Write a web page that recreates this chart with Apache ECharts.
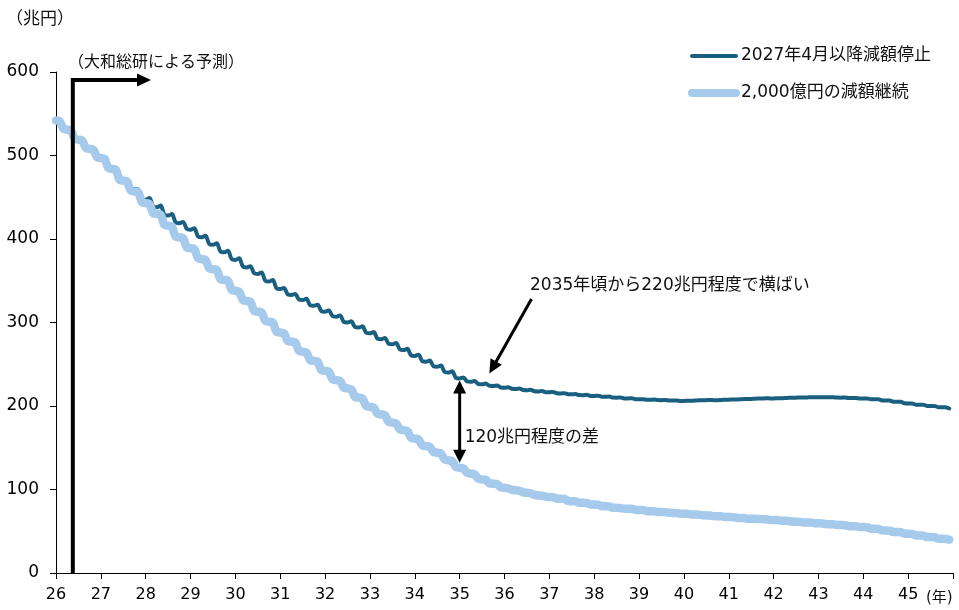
<!DOCTYPE html>
<html lang="ja">
<head>
<meta charset="utf-8">
<title>日銀保有国債残高の見通し</title>
<script src="https://cdn.jsdelivr.net/npm/echarts@6/dist/echarts.min.js"></script>
<style>
  html, body { margin: 0; padding: 0; background: #fff; }
  #chart { width: 959px; height: 610px; }
</style>
</head>
<body>
<div id="chart"></div>
<script>
// 年ラベル（20XX年）
const yearLabels = ['26','27','28','29','30','31','32','33','34','35',
                    '36','37','38','39','40','41','42','43','44','45'];

// 2027年4月以降減額停止（兆円、月次）
const holdStop = [
  542,541,532,531,530,520,519,518,509,508,507,498,               // 2026
  497,496,485,484.5,483.7,472,471.5,470.7,460,460,459.5,448,     // 2027
  447,449,439,438,440,429,428,430,420,419,420.5,412,             // 2028
  411,413,403,402,404,394,393,395,385,384,386,376,               // 2029
  375,377,367,366,367.5,359,358,360,350,349,351,341,             // 2030
  340,341.4,333.7,333,334.2,327.6,327,328.4,320.7,320,321.4,313.7, // 2031
  313,314.5,307.6,307,308.5,300.7,300,301.5,294.6,294,295.5,287.7, // 2032
  287,288.5,280.7,280,281.5,274.6,274,275.5,267.7,267,268.5,260.7, // 2033
  260,261.5,253.7,253,254.5,247.6,247,248.5,240.7,240,241.5,233.7, // 2034
  233,234.2,229.4,229,230,226.3,226,226.8,224.2,224,224.6,222.2, // 2035
  222,222.5,220.7,220.5,221,219.2,219,219.5,217.7,217.5,218,216.6, // 2036
  216.5,216.9,215.2,215,215.4,214.1,214,214.4,213.1,213,213.4,212.1, // 2037
  212,212.3,211.1,211,211.3,210.1,210,210.3,209.1,209,209.3,208.1, // 2038
  208,208.2,207.6,207.5,207.7,207.1,207,207.2,206.6,206.5,206.7,206.1, // 2039
  206,206.3,206.4,206.5,206.8,206.9,207,207.2,207,207,207.3,207.4, // 2040
  207.5,207.8,207.9,208,208.3,208.4,208.5,208.8,208.9,209,209.2,209.1, // 2041
  209,209.3,209.4,209.5,209.8,209.9,210,210.3,210.2,210.3,210.5,210.4, // 2042
  210.4,210.6,210.4,210.4,210.5,210.1,210,210.2,209.7,209.6,209.7,209.1, // 2043
  209,209.1,208.1,208,208.1,206.7,206.5,206.6,205.2,205,205.1,203.2, // 2044
  203,203.1,201.6,201.5,201.6,200.1,200,200.1,198.6,198.5,198.4,197  // 2045
];

// 2,000億円の減額継続（兆円、月次）
const keepCut = [
  542,541,532,531,530,520,519,518,509,508,507,498,               // 2026
  497,496,485,484,483,471,470,469,458,457,456,444,               // 2027
  443,442,431,430,429,417,416,415,403,402,401,390,               // 2028
  389,388,377,376,375,365,364,363,352,351,350,339,               // 2029
  338,337,327,326,325,314,313,312,302,301,300,289,               // 2030
  288,287,278,277,276,266,265,264,255,254,253,243,               // 2031
  242,241,232,231,230,222,221,220,211,210,209,200,               // 2032
  199,198,191,190,189,181,180,179,172,171,170,162,               // 2033
  161,160,153,152,151,145,144,143,136,135,134,127,               // 2034
  126,125,120,119,118,113,112,111.5,107.5,107,106.5,102.5,       // 2035
  102,101.5,99.5,99,98.5,96.5,96,95.5,93.5,93,92.5,91.5,         // 2036
  91,90.8,89.2,89,88.7,86.3,86,85.8,84.2,84,83.8,82.2,           // 2037
  82,81.8,80.2,80,79.8,78.2,78,77.9,77.1,77,76.9,75.7,           // 2038
  75.5,75.4,74.2,74,73.9,73.1,73,72.9,72.1,72,71.9,71.1,         // 2039
  71,70.9,70.1,70,69.9,69.1,69,68.9,68.1,68,67.9,67.1,           // 2040
  67,66.9,66.1,66,65.9,65.1,65,64.9,64.6,64.5,64.4,63.6,         // 2041
  63.5,63.4,62.6,62.5,62.4,61.6,61.5,61.4,60.6,60.5,60.4,59.6,   // 2042
  59.5,59.4,58.6,58.5,58.4,57.6,57.5,57.3,56.2,56,55.9,55.1,     // 2043
  55,54.8,53.2,53,52.8,51.2,51,50.8,49.2,49,48.8,47.2,           // 2044
  47,46.8,45.2,45,44.8,43.2,43,42.8,41.2,41,40.8,40              // 2045
];

const seriesNames = ['2027年4月以降減額停止', '2,000億円の減額継続'];
const COLOR_STOP = '#1A5F80';
const COLOR_CUT = '#A5CAEC';

// 月次カテゴリ（最後に 2046/1 の目盛位置を1つ追加）
const months = [];
yearLabels.forEach(y => { for (let m = 1; m <= 12; m++) months.push('20' + y + '/' + m); });
months.push('2046/1');

const FONT_NUM = "'DejaVu Sans', 'Noto Sans CJK JP', sans-serif";
const FONT_JP = "'Noto Sans CJK JP', sans-serif";
const yearTick = (i) => i % 12 === 0;

const chart = echarts.init(document.getElementById('chart'), null, { renderer: 'canvas' });

chart.setOption({
  animation: false,
  backgroundColor: '#fff',
  grid: { left: 56, right: 6, top: 72, bottom: 37, containLabel: false },
  xAxis: {
    type: 'category',
    data: months,
    boundaryGap: false,
    axisLine: { lineStyle: { color: '#000', width: 1 } },
    axisTick: { show: true, length: 6, interval: yearTick, lineStyle: { color: '#000' } },
    axisLabel: {
      interval: yearTick,
      margin: 14,
      color: '#000',
      fontFamily: FONT_NUM,
      fontSize: 16,
      formatter: (v, i) => (i % 12 === 0 && yearLabels[i / 12]) ? yearLabels[i / 12] : ''
    },
    splitLine: { show: false }
  },
  yAxis: {
    type: 'value',
    min: 0, max: 600, interval: 100,
    axisLine: { show: true, lineStyle: { color: '#000', width: 1 } },
    axisTick: { show: true, length: 6, lineStyle: { color: '#000' } },
    axisLabel: { margin: 17, color: '#000', fontFamily: FONT_NUM, fontSize: 17 },
    splitLine: { show: false }
  },
  series: [
    {
      name: seriesNames[0], type: 'line', data: holdStop,
      showSymbol: false, smooth: 0.3, z: 2,
      lineStyle: { color: COLOR_STOP, width: 4, cap: 'round', join: 'round' }
    },
    {
      name: seriesNames[1], type: 'line', data: keepCut,
      showSymbol: false, smooth: 0.3, z: 3,
      lineStyle: { color: COLOR_CUT, width: 8.5, cap: 'round', join: 'round' }
    }
  ]
});

// 注記（データ位置に合わせて配置）
const px = (i, v) => chart.convertToPixel({ xAxisIndex: 0, yAxisIndex: 0 }, [i, v]);
const axisY = px(0, 0)[1];

// 予測開始（2026年5月頃）
const xF = (px(4, 0)[0] + px(5, 0)[0]) / 2;
const topY = 80;

// 2035年1月の差
const iGap = 108;
const xG = px(iGap, 0)[0];
const yTop = px(iGap, holdStop[iGap])[1] + 2;
const yBot = px(iGap, keepCut[iGap])[1] - 5;

// 横ばい開始の矢印先端
const iFlat = 115;
const pFlat = px(iFlat, holdStop[iFlat]);
const tip = [pFlat[0] + 3.5, pFlat[1] - 10];
const tail = [531.5, 299];
const ang = Math.atan2(tip[1] - tail[1], tip[0] - tail[0]);
const headLen = 14, headHalf = 6.5;
const base = [tip[0] - headLen * Math.cos(ang), tip[1] - headLen * Math.sin(ang)];
const nx = -Math.sin(ang), ny = Math.cos(ang);

const blk = '#000';
const graphic = [
  // 予測開始線と右向き矢印
  { type: 'polyline', shape: { points: [[xF, axisY], [xF, topY], [139, topY]] },
    style: { stroke: blk, lineWidth: 4, fill: null, lineJoin: 'miter' }, z: 10 },
  { type: 'polygon', shape: { points: [[137, topY - 6.5], [151, topY], [137, topY + 6.5]] },
    style: { fill: blk }, z: 10 },
  { type: 'text', left: 68, top: 53,
    style: { text: '（大和総研による予測）', fill: '#111', font: '16px ' + FONT_JP }, z: 10 },

  // 差の両矢印
  { type: 'line', shape: { x1: xG, y1: yTop + 12, x2: xG, y2: yBot - 12 },
    style: { stroke: blk, lineWidth: 3 }, z: 10 },
  { type: 'polygon', shape: { points: [[xG, yTop], [xG - 6.5, yTop + 13], [xG + 6.5, yTop + 13]] },
    style: { fill: blk }, z: 10 },
  { type: 'polygon', shape: { points: [[xG, yBot], [xG - 6.5, yBot - 13], [xG + 6.5, yBot - 13]] },
    style: { fill: blk }, z: 10 },
  { type: 'text', x: xG + 5, y: (yTop + yBot) / 2 + 16,
    style: { text: '120兆円程度の差', fill: '#111', font: '17px ' + FONT_NUM,
             textVerticalAlign: 'middle', verticalAlign: 'middle' }, z: 10 },

  // 横ばいの斜め矢印
  { type: 'line', shape: { x1: tail[0], y1: tail[1], x2: base[0] + 2 * Math.cos(ang), y2: base[1] + 2 * Math.sin(ang) },
    style: { stroke: blk, lineWidth: 3 }, z: 10 },
  { type: 'polygon', shape: { points: [tip,
      [base[0] + nx * headHalf, base[1] + ny * headHalf],
      [base[0] - nx * headHalf, base[1] - ny * headHalf]] },
    style: { fill: blk }, z: 10 },
  { type: 'text', x: 530, y: 285.5,
    style: { text: '2035年頃から220兆円程度で横ばい', fill: '#111', font: '17px ' + FONT_NUM,
             verticalAlign: 'middle', textVerticalAlign: 'middle' }, z: 10 },

  // 単位
  { type: 'text', left: 6, top: 9,
    style: { text: '（兆円）', fill: '#111', font: '17px ' + FONT_JP }, z: 10 },
  { type: 'text', x: 926, y: 598,
    style: { text: '(年)', fill: '#111', font: '15px ' + FONT_NUM,
             verticalAlign: 'middle', textVerticalAlign: 'middle' }, z: 10 },

  // 凡例
  { type: 'line', shape: { x1: 692, y1: 56, x2: 736, y2: 56 },
    style: { stroke: COLOR_STOP, lineWidth: 4, lineCap: 'round' }, z: 10 },
  { type: 'text', x: 741, y: 56,
    style: { text: seriesNames[0], fill: '#111', font: '17px ' + FONT_NUM,
             verticalAlign: 'middle', textVerticalAlign: 'middle' }, z: 10 },
  { type: 'line', shape: { x1: 692, y1: 93, x2: 736, y2: 93 },
    style: { stroke: COLOR_CUT, lineWidth: 8, lineCap: 'round' }, z: 10 },
  { type: 'text', x: 741, y: 93,
    style: { text: seriesNames[1], fill: '#111', font: '17px ' + FONT_NUM,
             verticalAlign: 'middle', textVerticalAlign: 'middle' }, z: 10 }
];

chart.setOption({ graphic: graphic });
</script>
</body>
</html>
